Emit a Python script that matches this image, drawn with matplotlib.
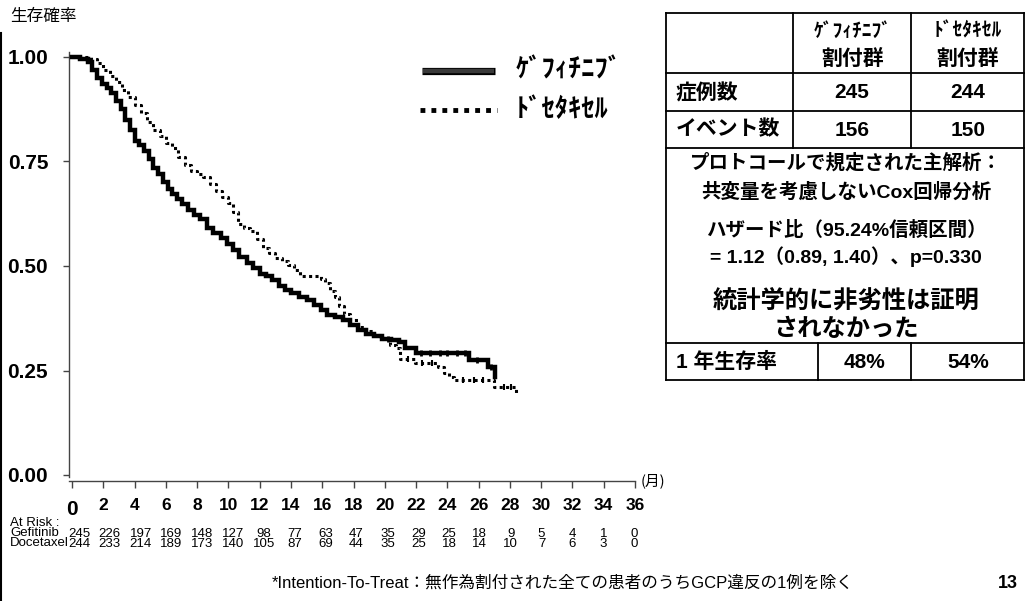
import matplotlib
matplotlib.use("Agg")
import matplotlib.pyplot as plt
from matplotlib.lines import Line2D
import matplotlib.transforms as mtrans
import numpy as np

plt.rcParams['font.family'] = ['Liberation Sans', 'Noto Sans CJK JP', 'DejaVu Sans']

# ---------------- data ----------------
gef_t = [0, 0.5, 1.0, 1.3, 1.6, 1.9, 2.2, 2.5, 2.8, 3.1, 3.4, 3.7, 4.0, 4.3, 4.6, 4.9,
         5.2, 5.5, 5.8, 6.1, 6.4, 6.7, 7.0, 7.4, 7.8, 8.2, 8.6, 9.0, 9.5, 9.9, 10.3,
         10.7, 11.2, 11.6, 12.0, 12.4, 12.8, 13.2, 13.6, 14.0, 14.5, 15.0, 15.5, 15.9,
         16.3, 16.8, 17.3, 17.8, 18.3, 18.8, 19.3, 19.8, 20.4, 20.9, 21.3, 22.0, 25.4,
         26.6, 27.05]
gef_s = [1.0, 0.996, 0.988, 0.97, 0.95, 0.935, 0.925, 0.915, 0.895, 0.875, 0.85, 0.825,
         0.80, 0.79, 0.775, 0.755, 0.735, 0.72, 0.70, 0.685, 0.672, 0.66, 0.648, 0.635,
         0.622, 0.612, 0.592, 0.578, 0.566, 0.552, 0.538, 0.522, 0.506, 0.495, 0.482,
         0.475, 0.466, 0.452, 0.443, 0.435, 0.426, 0.418, 0.407, 0.395, 0.383, 0.378,
         0.372, 0.36, 0.347, 0.338, 0.332, 0.325, 0.322, 0.318, 0.305, 0.292, 0.275,
         0.258, 0.234]

doc_t = [0, 1.2, 1.6, 2.0, 2.4, 2.8, 3.2, 3.6, 4.0, 4.4, 4.8, 5.2, 5.6, 6.0, 6.4, 6.8,
         7.2, 7.6, 8.0, 8.4, 8.8, 9.2, 9.6, 10.0, 10.3, 10.6, 11.0, 11.4, 11.8, 12.2,
         12.6, 13.0, 13.4, 13.8, 14.2, 14.6, 15.9, 16.2, 16.5, 16.8, 17.1, 17.4, 17.8,
         18.3, 18.8, 19.3, 19.8, 20.3, 20.7, 21.0, 21.9, 23.4, 23.8, 24.1, 24.4, 27.0,
         28.4]
doc_s = [1.0, 0.995, 0.985, 0.97, 0.955, 0.94, 0.92, 0.905, 0.885, 0.866, 0.845, 0.825,
         0.81, 0.795, 0.782, 0.76, 0.742, 0.728, 0.72, 0.712, 0.695, 0.68, 0.665, 0.65,
         0.628, 0.60, 0.592, 0.583, 0.565, 0.542, 0.53, 0.518, 0.512, 0.502, 0.49, 0.476,
         0.468, 0.459, 0.44, 0.426, 0.405, 0.385, 0.372, 0.355, 0.345, 0.335, 0.325,
         0.31, 0.303, 0.278, 0.267, 0.258, 0.244, 0.235, 0.227, 0.211, 0.196]

gef_cens = [20.2, 22.3, 22.9, 23.5, 24.0, 24.6, 25.1, 25.9, 26.8]
doc_cens = [21.5, 22.4, 23.0, 25.0, 25.7, 26.3, 27.6, 28.1]

risk_times = list(range(0, 37, 2))
risk_gef = [245, 226, 197, 169, 148, 127, 98, 77, 63, 47, 35, 29, 25, 18, 9, 5, 4, 1, 0]
risk_doc = [244, 233, 214, 189, 173, 140, 105, 87, 69, 44, 35, 25, 18, 14, 10, 7, 6, 3, 0]

y_ticks = [0.0, 0.25, 0.50, 0.75, 1.00]
y_ticklabels = ['0.00', '0.25', '0.50', '0.75', '1.00']
x_ticks = list(range(0, 37, 2))

legend_labels = ['ｹﾞﾌｨﾁﾆﾌﾞ', 'ﾄﾞｾﾀｷｾﾙ']
tbl_header = [['ｹﾞﾌｨﾁﾆﾌﾞ', '割付群'], ['ﾄﾞｾﾀｷｾﾙ', '割付群']]
tbl_rows = [['症例数', '245', '244'], ['イベント数', '156', '150']]
tbl_mid = ['プロトコールで規定された主解析：', '共変量を考慮しないCox回帰分析',
           'ハザード比（95.24%信頼区間）', '= 1.12（0.89, 1.40）、p=0.330',
           '統計学的に非劣性は証明', 'されなかった']
tbl_last = ['1 年生存率', '48%', '54%']

# ---------------- figure ----------------
W, H = 1026, 601
fig = plt.figure(figsize=(W / 100, H / 100), dpi=100)
fig.patch.set_facecolor('white')


def fx(px):
    return px / W


def fy(py):
    return 1 - py / H


ax = fig.add_axes([fx(69), fy(477), (635 - 69) / W, (477 - 52) / H])
ax.set_xlim(-0.2, 36)
ax.set_ylim(-2 / 418, 1 + 5 / 418)

ax.plot(gef_t, gef_s, drawstyle='steps-post', color='black', lw=3.2,
        solid_joinstyle='miter', zorder=3)
ax.plot(doc_t, doc_s, drawstyle='steps-post', color='black', lw=2.2,
        linestyle=(0, (1.0, 1.1)), zorder=3)


def step_val(ts, ss, t):
    i = np.searchsorted(ts, t, side='right') - 1
    return ss[i]


ax.plot(gef_cens, [step_val(gef_t, gef_s, t) for t in gef_cens], linestyle='none',
        marker='|', ms=5, mew=2, color='black', zorder=4)
ax.plot(doc_cens, [step_val(doc_t, doc_s, t) for t in doc_cens], linestyle='none',
        marker='|', ms=4, mew=1.5, color='black', zorder=4)

for s in ['top', 'right']:
    ax.spines[s].set_visible(False)
ax.spines['left'].set_color('#444444')
ax.spines['left'].set_linewidth(1.0)
ax.spines['bottom'].set_color('#444444')
ax.spines['bottom'].set_linewidth(1.0)
ax.spines['bottom'].set_position(('outward', 3))

ax.set_yticks(y_ticks)
ax.set_yticklabels(y_ticklabels, fontsize=15, fontweight='bold')
ax.tick_params(axis='y', direction='out', length=4, width=1, color='#444444', pad=11)
ax.set_xticks(x_ticks)
ax.set_xticklabels([str(v) for v in x_ticks], fontsize=12.5, fontweight='bold')
ax.tick_params(axis='x', direction='out', length=5, width=1, color='#444444', pad=7)
lbl0 = ax.get_xticklabels()[0]
lbl0.set_fontsize(15)
lbl0.set_y(-0.006)

# unit label
fig.text(fx(641), fy(481), '(月)', fontsize=10.5, ha='left', va='center',
         family=['Noto Sans CJK JP'])

# y label
fig.text(fx(10), fy(17), '生存確率', fontsize=12, ha='left', va='center',
         family=['Noto Sans CJK JP'])

# at-risk table
fig.text(fx(10), fy(523), 'At Risk :', fontsize=9.5, ha='left', va='center')
fig.text(fx(10), fy(533), 'Gefitinib', fontsize=9.5, ha='left', va='center')
fig.text(fx(10), fy(543), 'Docetaxel', fontsize=9.5, ha='left', va='center')
tr = mtrans.blended_transform_factory(ax.transData, fig.transFigure)
for t, g, d in zip(risk_times, risk_gef, risk_doc):
    xx = 0.44 + t * (35.5 / 36)
    fig.text(xx, fy(534), str(g), transform=tr, fontsize=9.5, ha='center', va='center')
    fig.text(xx, fy(544), str(d), transform=tr, fontsize=9.5, ha='center', va='center')

# legend (manual)
fig.add_artist(Line2D([fx(422), fx(495)], [fy(71), fy(71)], color='black', lw=5.2,
                      solid_capstyle='butt'))
fig.add_artist(Line2D([fx(423), fx(494)], [fy(71), fy(71)], color='#3a3a3a', lw=3.2,
                      solid_capstyle='butt'))
fig.add_artist(Line2D([fx(420), fx(497)], [fy(110), fy(110)], color='black', lw=3.5,
                      linestyle=(0, (1.0, 1.25))))
fig.text(fx(516), fy(70), legend_labels[0], fontsize=19, fontweight='bold',
         ha='left', va='center', family=['Noto Sans CJK JP'])
fig.text(fx(516), fy(110), legend_labels[1], fontsize=19, fontweight='bold',
         ha='left', va='center', family=['Noto Sans CJK JP'])


# results table
def hline(x0, x1, y):
    fig.add_artist(Line2D([fx(x0), fx(x1)], [fy(y), fy(y)], color='black', lw=1.3))


def vline(x, y0, y1):
    fig.add_artist(Line2D([fx(x), fx(x)], [fy(y0), fy(y1)], color='black', lw=1.3))


L, R = 666, 1024
for yy in [13, 73, 111, 148, 343, 380]:
    hline(L, R, yy)
vline(L, 13, 380)
vline(R, 13, 380)
vline(793, 13, 148)
vline(911, 13, 148)
vline(818, 343, 380)
vline(911, 343, 380)

cj = ['Liberation Sans', 'Noto Sans CJK JP']
for cx, hdr in zip([853, 968], tbl_header):
    fig.text(fx(cx), fy(31), hdr[0], fontsize=14, fontweight='bold', ha='center',
             va='center', family=['Noto Sans CJK JP'])
    fig.text(fx(cx), fy(58), hdr[1], fontsize=15, fontweight='bold', ha='center',
             va='center', family=['Noto Sans CJK JP'])
for yy, row in zip([93, 130], tbl_rows):
    fig.text(fx(676), fy(yy), row[0], fontsize=15, fontweight='bold', ha='left',
             va='center', family=cj)
    fig.text(fx(852), fy(yy), row[1], fontsize=15, fontweight='bold', ha='center',
             va='center', family=cj)
    fig.text(fx(968), fy(yy), row[2], fontsize=15, fontweight='bold', ha='center',
             va='center', family=cj)
mid_y = [163, 192, 230, 257, 302, 329]
mid_fs = [14, 14, 14, 14, 17.5, 17.5]
for yy, txt, fs in zip(mid_y, tbl_mid, mid_fs):
    fig.text(fx(846), fy(yy), txt, fontsize=fs, fontweight='bold', ha='center',
             va='center', family=cj)
fig.text(fx(676), fy(362), tbl_last[0], fontsize=15, fontweight='bold', ha='left',
         va='center', family=cj)
fig.text(fx(864), fy(362), tbl_last[1], fontsize=15, fontweight='bold', ha='center',
         va='center', family=cj)
fig.text(fx(968), fy(362), tbl_last[2], fontsize=15, fontweight='bold', ha='center',
         va='center', family=cj)

# footnote and page number
fig.text(fx(272), fy(583), '*Intention-To-Treat：無作為割付された全ての患者のうちGCP違反の1例を除く',
         fontsize=12, ha='left', va='center', family=cj)
fig.text(fx(998), fy(583), '13', fontsize=13, fontweight='bold', ha='left', va='center')

# slide frame line on the left
fig.add_artist(Line2D([fx(1), fx(1)], [fy(33), fy(601)], color='black', lw=1.5))

fig.savefig('out.png', dpi=100, facecolor='white')
